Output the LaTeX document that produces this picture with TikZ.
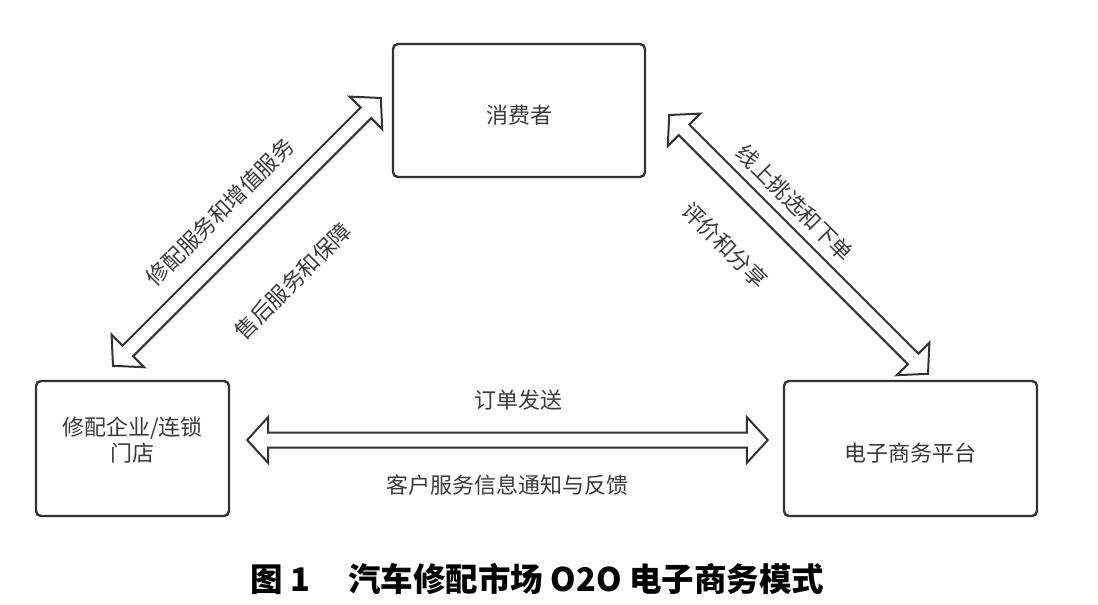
\documentclass[tikz,border=0pt]{standalone}
\usepackage{fontspec}
\usetikzlibrary{calc}
\newfontfamily\cjk{Noto Sans CJK SC}
\definecolor{ink}{HTML}{333333}
\definecolor{txt}{HTML}{3A3A3A}
\newcommand\flexarrow[2]{%
  \coordinate (fa-a) at ($(#1)!21pt!(#2)$);
  \coordinate (fa-b) at ($(#2)!21pt!(#1)$);
  \draw[flexbody] (#1) -- ($(fa-a)!23pt!90:(#2)$) -- ($(fa-a)!7.5pt!90:(#2)$)
    -- ($(fa-b)!7.5pt!-90:(#1)$) -- ($(fa-b)!23pt!-90:(#1)$) -- (#2)
    -- ($(fa-b)!23pt!90:(#1)$) -- ($(fa-b)!7.5pt!90:(#1)$)
    -- ($(fa-a)!7.5pt!-90:(#2)$) -- ($(fa-a)!23pt!-90:(#2)$) -- cycle;
}
\tikzset{
  box/.style={draw=ink, line width=2.4pt, rounded corners=5pt, fill=white,
    inner sep=0pt, align=center, text=txt, text height=27pt,
    font=\cjk\fontsize{22}{26}\selectfont},
  flexbody/.style={draw=ink, line width=2pt, fill=white, line join=miter},
  lbl/.style={text=txt, inner sep=0pt, font=\cjk\fontsize{22}{26}\selectfont},
}
\begin{document}
\begin{tikzpicture}[x=1pt, y=-1pt]
\useasboundingbox[fill=white] (0,0) rectangle (1098,605);
% boxes
\node[box, minimum width=252pt, minimum height=133pt] (cons) at (519,110.5) {消费者};
\node[box, minimum width=193pt, minimum height=135pt] (rep) at (132.5,448.5) {修配企业/连锁\\门店};
\node[box, minimum width=253pt, minimum height=135pt] (ecom) at (910.5,448.5) {电子商务平台};
% arrow end points
\coordinate (t1) at ($(cons.west)+(-11,-12.5)$);
\coordinate (t2) at ($(rep.north)+(-19.5,-14)$);
\coordinate (t3) at ($(cons.east)+(23,4.5)$);
\coordinate (t4) at ($(ecom.north)+(17.5,-6)$);
\coordinate (t5) at ($(rep.east)+(17,-8.5)$);
\coordinate (t6) at ($(ecom.west)+(-15,-8.5)$);
% arrows
\flexarrow{t2}{t1}
\flexarrow{t3}{t4}
\flexarrow{t5}{t6}
% labels
\node[lbl, rotate=45] (l1) at (220,212) {修配服务和增值服务};
\node[lbl, rotate=45] (l2) at (293,281) {售后服务和保障};
\node[lbl, rotate=-45] (l3) at (795,203) {线上挑选和下单};
\node[lbl, rotate=-45] (l4) at (725,245) {评价和分享};
\node[lbl] (l5) at (518,400) {订单发送};
\node[lbl] (l6) at (507,485) {客户服务信息通知与反馈};
% caption
\node[inner sep=0pt, text=black, font=\cjk\bfseries\fontsize{32.5}{36}\selectfont] (cap) at (537.5,579)
  {图 1\hspace{38pt}汽车修配市场 O2O 电子商务模式};
\end{tikzpicture}
\end{document}
